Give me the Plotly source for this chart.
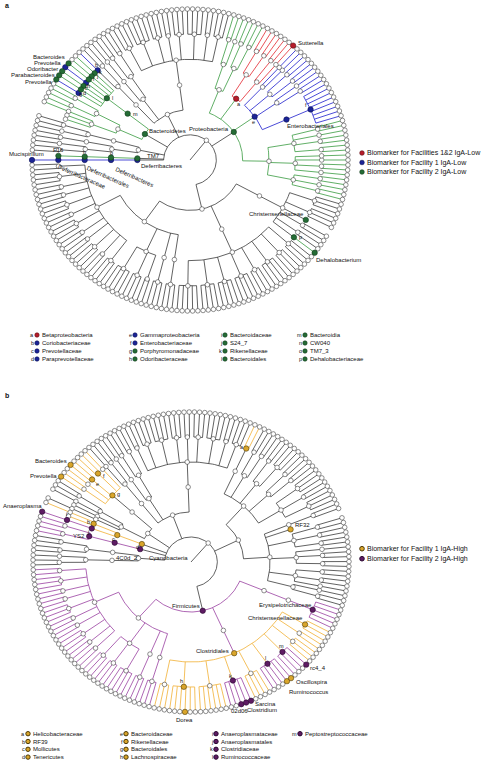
import math
import plotly.graph_objects as go

# ===================== DATA =====================
# Tree notation: kingdom = list of phyla; phylum = list of classes;
# class = list of orders; order = list of families, each family given as
# its number of genera (0 = the family itself is a tip).

# ---------- panel a ----------
A_PHYLA = ["Firmicutes", "Proteobacteria", "Actinobacteria", "Bacteroidetes",
           "Tenericutes", "TM7", "Deferribacteres"]
A_FIRMICUTES = [[[2, 3, 2, 2, 3, 2, 3, 2, 2, 3, 2, 3], [4, 3, 2], [3], [3]],
                [[5, 4, 4, 4, 3, 4, 3, 3]],
                [[1, 2, 2, 0, 3, 3]]]
A_PROTEOBACTERIA = [[[2, 1, 2], [1, 2, 1, 1], [2, 2, 1, 2]],
                    [[8], [2, 1], [2, 2], [1, 1]],
                    [[1, 2], [2, 2]],
                    [[2, 2], [1, 2]]]
A_ACTINOBACTERIA = [[[3, 2, 4, 3, 2, 3, 4, 3]], [[2, 2], [1]], [[2, 1]]]
A_BACTEROIDETES = [[[1, 1, 1, 1, 1, 1, 1]], [[2, 2], [1, 0, 0]]]
A_TENERICUTES = [[[2, 1]], [[2], [1, 2]]]
A_TM7 = [[[0]]]
A_DEFERRIBACTERES = [[[1]]]
A_TREE = [A_FIRMICUTES, A_PROTEOBACTERIA, A_ACTINOBACTERIA, A_BACTEROIDETES,
          A_TENERICUTES, A_TM7, A_DEFERRIBACTERES]

A_MARK_PATHS = [(1,), (1, 2), (1, 2, 0, 0, 0), (1, 1), (1, 1, 0), (1, 1, 0, 0),
                (2, 2, 0, 1), (3,), (3, 0), (3, 0, 0), (3, 0, 0, 0), (3, 0, 0, 1),
                (3, 0, 0, 2), (3, 0, 0, 2, 0), (3, 0, 0, 3), (3, 0, 0, 3, 0),
                (3, 0, 0, 4), (3, 0, 0, 4, 0), (3, 0, 0, 5), (3, 0, 0, 5, 0),
                (3, 0, 0, 6), (3, 0, 0, 6, 0), (5,), (5, 0), (5, 0, 0), (5, 0, 0, 0),
                (6,), (6, 0), (6, 0, 0), (6, 0, 0, 0), (6, 0, 0, 0, 0),
                (0, 2, 0, 3), (0, 2, 0, 0), (0, 2, 0, 0, 0)]
A_MARK_GROUPS = ["g", "r", "r", "b", "b", "b", "b", "g", "g", "g", "g", "g", "g", "g",
                 "b", "b", "g", "g", "g", "g", "b", "g", "g", "g", "g", "g",
                 "b", "b", "b", "b", "b", "g", "g", "g"]
A_MARK_LABELS = ["Proteobacteria", "a", "Sutterella", "e", "Enterobacteriales", "f",
                 "b", "Bacteroidetes", "m", "l", "k", "j", "i", "Bacteroides", "c",
                 "Prevotella", "h", "Odoribacter", "g", "Parabacteroides", "d",
                 "Prevotella", "TM7", "o", "n", "F16", "Deferribacteres",
                 "Deferribacteres", "Deferribacterales", "Deferribacteraceae",
                 "Mucispirillum", "Christensenellaceae", "p", "Dehalobacterium"]

A_KEY_LETTERS = list("abcdefghijklmnop")
A_KEY_NAMES = ["Betaproteobacteria", "Coriobacteriaceae", "Prevotellaceae",
               "Paraprevotellaceae", "Gammaproteobacteria", "Enterobacteriaceae",
               "Porphyromonadaceae", "Odoribacteraceae", "Bacteroidaceae", "S24_7",
               "Rikenellaceae", "Bacteroidales", "Bacteroidia", "CW040", "TM7_3",
               "Dehalobacteriaceae"]
A_KEY_GROUPS = ["r", "b", "b", "b", "b", "b", "g", "g", "g", "g", "g", "g", "g", "g",
                "g", "g"]
A_LEGEND_NAMES = ["Biomarker for Facilities 1&2 IgA-Low",
                  "Biomarker for Facility 1 IgA-Low",
                  "Biomarker for Facility 2 IgA-Low"]
A_LEGEND_GROUPS = ["r", "b", "g"]

# ---------- panel b ----------
B_PHYLA = ["Firmicutes", "Proteobacteria", "Actinobacteria", "Bacteroidetes",
           "Tenericutes", "Cyanobacteria", "Verrucomicrobia"]
B_FIRMICUTES = [[[2, 3, 2, 2, 3, 2, 2, 3, 2, 2], [3, 3, 4], [3], [3]],
                [[3, 6, 6, 5, 4, 5, 4, 3, 2, 3]],
                [[5]]]
B_PROTEOBACTERIA = [[[2, 1], [1, 2, 2], [2, 2, 1], [2, 2, 2], [], [2]],
                    [[3, 2, 3], [2, 2], [3, 2], [2, 2], [2]]]
B_ACTINOBACTERIA = [[[3, 2, 4, 3, 2, 3, 4, 3, 2]], [[2, 2], [1]], [[2, 1]]]
B_BACTEROIDETES = [[[1, 2, 2, 1, 2]], [[2, 1], [0], [1]]]
B_TENERICUTES = [[[1, 0], [1]]]
B_CYANOBACTERIA = [[[2, 2]]]
B_VERRUCOMICROBIA = [[[2, 2]], [[1, 2]]]
B_TREE = [B_FIRMICUTES, B_PROTEOBACTERIA, B_ACTINOBACTERIA, B_BACTEROIDETES,
          B_TENERICUTES, B_CYANOBACTERIA, B_VERRUCOMICROBIA]

B_MARK_PATHS = [(0,), (0, 1, 0), (0, 1, 0, 1), (0, 1, 0, 1, 3), (0, 1, 0, 3),
                (0, 1, 0, 3, 2), (0, 1, 0, 3, 3), (0, 1, 0, 3, 4), (0, 1, 0, 5),
                (0, 1, 0, 5, 3), (0, 1, 0, 5, 4), (0, 1, 0, 6), (0, 1, 0, 6, 3),
                (0, 1, 0, 9), (0, 2, 0, 0), (1, 0, 4), (1, 1, 4, 0), (3, 0, 0),
                (3, 0, 0, 1), (3, 0, 0, 2), (3, 0, 0, 2, 1), (3, 0, 0, 4, 1), (4,),
                (4, 0), (4, 0, 0), (4, 0, 1), (4, 0, 1, 0), (4, 0, 1, 0, 0), (5,),
                (5, 0), (5, 0, 0)]
B_MARK_GROUPS = ["p", "o", "o", "o", "p", "p", "p", "p", "p", "o", "o", "p", "p", "o",
                 "p", "o", "o", "o", "o", "o", "o", "o", "o", "o", "o", "p", "p", "p",
                 "p", "p", "p"]
B_MARK_LABELS = ["Firmicutes", "Clostridiales", "h", "Dorea", "k", "02d06",
                 "Clostridium", "Sarcina", "l", "Ruminococcus", "Oscillospira", "m",
                 "rc4_4", "Christensenellaceae", "Erysipelotrichaceae", "RF32", "a",
                 "g", "f", "e", "Bacteroides", "Prevotella", "d", "c", "b", "j", "i",
                 "Anaeroplasma", "Cyanobacteria", "4C0d_2", "YS2"]

B_KEY_LETTERS = list("abcdefghijklm")
B_KEY_NAMES = ["Helicobacteraceae", "RF39", "Mollicutes", "Tenericutes",
               "Bacteroidaceae", "Rikenellaceae", "Bacteroidales", "Lachnospiraceae",
               "Anaeroplasmataceae", "Anaeroplasmatales", "Clostridiaceae",
               "Ruminococcaceae", "Peptostreptococcaceae"]
B_KEY_GROUPS = ["o"] * 8 + ["p"] * 5
B_LEGEND_NAMES = ["Biomarker for Facility 1 IgA-High",
                  "Biomarker for Facility 2 IgA-High"]
B_LEGEND_GROUPS = ["o", "p"]

# ===================== STYLE / LAYOUT =====================
W, H = 494, 762
FONT = "Liberation Sans, Arial, sans-serif"
LINE_COL = {"k": "#1e1e1e", "r": "#e5333b", "b": "#2b2bd0", "g": "#45a04b",
            "o": "#f2b540", "p": "#9f4ba6"}
DOT_COL = {"r": "#b71c2a", "b": "#1b2496", "g": "#246c35", "o": "#d9a52b", "p": "#5e1b63"}
DOT_EDGE = {"r": "#5a0a10", "b": "#0b1055", "g": "#103a1a", "o": "#4e3a05", "p": "#2a0830"}

# label placement (dx px, dy px downward, xanchor, angle)
A_LABEL_PLACE = [(-4, -3, "right", 0), (3, 5, "center", 0), (4, -3, "left", 0),
                 (-1, 5, "center", 0), (0, 6, "left", 0), (-5, -4, "center", 0),
                 (-1, -5, "center", 0), (3, -3, "left", 0), (4, 0, "left", 0),
                 (4, 0, "left", 0), (3, -1, "left", 0), (3, 0, "left", 0),
                 (3, 0, "left", 0), (-3, -6, "right", 0), (0, 5, "center", 0),
                 (-3, -4, "right", 0), (3, 0, "left", 0), (-3, -2, "right", 0),
                 (0, 5, "center", 0), (-3, 0, "right", 0), (3, 0, "left", 0),
                 (-3, 2, "right", 0), (9, -2, "left", 0), (0, -5, "center", 0),
                 (0, -5, "center", 0), (0, -6, "center", 0), (3, 6, "left", 0),
                 (23, 17, "center", 24), (23, 17, "center", 24), (24, 17, "center", 24),
                 (-6, -6, "center", 0), (-1, -6, "right", 0), (4, 0, "left", 0),
                 (0, 7, "left", 0)]
B_LABEL_PLACE = [(-2, -5, "right", 0), (-4, -2, "right", 0), (-2, -6, "center", 0),
                 (0, 8, "center", 0), (-2, -5, "center", 0), (-2, 7, "center", 0),
                 (0, 7, "left", 0), (3, 3, "left", 0), (-2, -6, "center", 0),
                 (1, 11, "left", 0), (4, 4, "left", 0), (-1, -6, "center", 0),
                 (3, 3, "left", 0), (-1, -6, "right", 0), (0, -5, "right", 0),
                 (3, -4, "left", 0), (-4, -2, "center", 0), (4, -1, "left", 0),
                 (4, 2, "left", 0), (3, 4, "left", 0), (-3, -4, "right", 0),
                 (-3, -1, "right", 0), (-4, 3, "center", 0), (-4, 4, "center", 0),
                 (-5, -2, "center", 0), (-4, 4, "center", 0), (0, -6, "center", 0),
                 (1, -6, "right", 0), (8, 9, "left", 0), (0, 15, "left", 0),
                 (-3, 0, "right", 0)]

PANEL_A = dict(cx=190, cy=160, rx=158, ry=151, top=0, bottom=381, start=-178.1,
               xa="x", ya="y", xname="xaxis", yname="yaxis")
PANEL_B = dict(cx=191, cy=562, rx=158, ry=150, top=381, bottom=762, start=-177.0,
               xa="x2", ya="y2", xname="xaxis2", yname="yaxis2")


def xy(theta, r):
    t = math.radians(theta)
    return r * math.cos(t), r * math.sin(t)


def count_leaves(item, level):
    ch = [] if level == 6 else ([None] * item if level == 5 else item)
    if not ch:
        return 1
    return sum(count_leaves(c, level + 1) for c in ch)


def draw_panel(fig, tree, paths, groups, labels, places, P):
    n_leaves = count_leaves(tree, 1)
    step = 360.0 / n_leaves
    pos, kids = {}, {}
    counter = [0]

    def visit(item, path, level):
        ch = [] if level == 6 else ([None] * item if level == 5 else item)
        if not ch:
            th = P["start"] + counter[0] * step
            counter[0] += 1
        else:
            ths = [visit(c, path + (i,), level + 1) for i, c in enumerate(ch)]
            th = 0.5 * (ths[0] + ths[-1])
        pos[path] = (th, level)
        kids[path] = [path + (i,) for i in range(len(ch))]
        return th

    visit(tree, (), 1)
    mark = dict(zip(paths, groups))

    def eff(path):
        while path:
            if path in mark:
                return mark[path]
            path = path[:-1]
        return mark.get((), "k")

    segs = {}

    def add(col, xs, ys):
        segs.setdefault(col, ([], []))
        segs[col][0].extend(xs + [None])
        segs[col][1].extend(ys + [None])

    kx, ky = xy(*pos[()])
    add("k", [0, kx], [0, ky])
    for path, ch in kids.items():
        if not ch:
            continue
        thp, lp = pos[path]
        col = eff(path)
        ths = [pos[c][0] for c in ch]
        a0, a1 = min(ths), max(ths)
        if a1 - a0 > 1e-6:
            n = max(2, int((a1 - a0) / 1.2) + 2)
            xs, ys = [], []
            for i in range(n):
                x, y = xy(a0 + (a1 - a0) * i / (n - 1), lp)
                xs.append(x)
                ys.append(y)
            add(col, xs, ys)
        for c in ch:
            thc, lc = pos[c]
            x0, y0 = xy(thc, lp)
            x1, y1 = xy(thc, lc)
            add(col, [x0, x1], [y0, y1])
    for col in ["k", "r", "b", "g", "o", "p"]:
        if col in segs:
            fig.add_trace(go.Scatter(x=segs[col][0], y=segs[col][1], mode="lines",
                                     line=dict(color=LINE_COL[col],
                                               width=0.7 if col == "k" else 0.85),
                                     xaxis=P["xa"], yaxis=P["ya"], hoverinfo="skip"))
    wx, wy = [], []
    for path, (th, lv) in pos.items():
        if path not in mark:
            x, y = xy(th, lv)
            wx.append(x)
            wy.append(y)
    fig.add_trace(go.Scatter(x=wx, y=wy, mode="markers",
                             marker=dict(size=4.6, color="white",
                                         line=dict(color="#333333", width=0.55)),
                             xaxis=P["xa"], yaxis=P["ya"], hoverinfo="skip"))
    for g in ["r", "b", "g", "o", "p"]:
        mx, my = [], []
        for path, gg in mark.items():
            if gg == g:
                x, y = xy(*pos[path])
                mx.append(x)
                my.append(y)
        if mx:
            fig.add_trace(go.Scatter(x=mx, y=my, mode="markers",
                                     marker=dict(size=5.4, color=DOT_COL[g],
                                                 line=dict(color=DOT_EDGE[g], width=0.6)),
                                     xaxis=P["xa"], yaxis=P["ya"], hoverinfo="skip"))
    anns = []
    for path, lab, (dx, dy, anc, ang) in zip(paths, labels, places):
        x, y = xy(*pos[path])
        anns.append(dict(x=x, y=y, xref=P["xa"], yref=P["ya"], text=lab,
                         showarrow=False, xanchor=anc, yanchor="middle",
                         xshift=dx, yshift=-dy, textangle=ang, borderpad=0,
                         font=dict(size=5.5 if len(lab) == 1 else 6,
                                   family=FONT, color="#111111")))
    ux, uy = P["rx"] / 6.0, P["ry"] / 6.0
    xr = [-P["cx"] / ux, (W - P["cx"]) / ux]
    yr = [-(P["bottom"] - P["cy"]) / uy, (P["cy"] - P["top"]) / uy]
    ax = dict(range=xr, domain=[0, 1], visible=False, fixedrange=True,
              showgrid=False, zeroline=False)
    ay = dict(range=yr, domain=[1 - P["bottom"] / H, 1 - P["top"] / H],
              visible=False, fixedrange=True, showgrid=False, zeroline=False)
    if P["xa"] == "x2":
        ax["anchor"] = "y2"
        ay["anchor"] = "x2"
    fig.update_layout({P["xname"]: ax, P["yname"]: ay})
    return anns


def px_paper(px, py):
    return px / W, 1 - py / H


def dot(px, py, d, g, lw=0.6):
    x0, y1 = px_paper(px - d / 2, py - d / 2)
    x1, y0 = px_paper(px + d / 2, py + d / 2)
    return dict(type="circle", xref="paper", yref="paper", x0=x0, x1=x1, y0=y0, y1=y1,
                fillcolor=DOT_COL[g], line=dict(color=DOT_EDGE[g], width=lw),
                layer="above")


def ptext(px, py, text, size, anchor="left", bold=False):
    x, y = px_paper(px, py)
    return dict(x=x, y=y, xref="paper", yref="paper",
                text=("<b>%s</b>" % text) if bold else text,
                showarrow=False, xanchor=anchor, yanchor="middle", borderpad=0,
                font=dict(size=size, family=FONT, color="#111111"))


fig = go.Figure()
anns = []
anns += draw_panel(fig, A_TREE, A_MARK_PATHS, A_MARK_GROUPS, A_MARK_LABELS,
                   A_LABEL_PLACE, PANEL_A)
anns += draw_panel(fig, B_TREE, B_MARK_PATHS, B_MARK_GROUPS, B_MARK_LABELS,
                   B_LABEL_PLACE, PANEL_B)

shapes = []
# panel letters
anns.append(ptext(4, 6, "a", 7, bold=True))
anns.append(ptext(4, 395, "b", 7, bold=True))

# right-hand legends
for i, (name, g) in enumerate(zip(A_LEGEND_NAMES, A_LEGEND_GROUPS)):
    py = 153 + 9.5 * i
    shapes.append(dot(362, py, 4.6, g))
    anns.append(ptext(365.5, py, name, 7))
for i, (name, g) in enumerate(zip(B_LEGEND_NAMES, B_LEGEND_GROUPS)):
    py = 548.7 + 10 * i
    shapes.append(dot(362, py, 4.6, g, lw=1.0))
    anns.append(ptext(365.5, py, name, 7))

# bottom keys
A_KEY_COLX = [37, 135, 225, 305]
for i, (lt, name, g) in enumerate(zip(A_KEY_LETTERS, A_KEY_NAMES, A_KEY_GROUPS)):
    cx = A_KEY_COLX[i // 4]
    py = 335 + 8 * (i % 4)
    shapes.append(dot(cx, py, 4.4, g))
    anns.append(ptext(cx - 2.5, py, lt, 5.5, anchor="right"))
    anns.append(ptext(cx + 4, py, name, 6))
B_KEY_COLX = [28, 126, 216, 300]
for i, (lt, name, g) in enumerate(zip(B_KEY_LETTERS, B_KEY_NAMES, B_KEY_GROUPS)):
    cx = B_KEY_COLX[i // 4]
    py = 733.7 + 7.8 * (i % 4)
    shapes.append(dot(cx, py, 4.4, g, lw=1.0))
    anns.append(ptext(cx - 2.5, py, lt, 5.5, anchor="right"))
    anns.append(ptext(cx + 4, py, name, 6))

fig.update_layout(width=W, height=H, margin=dict(l=0, r=0, t=0, b=0),
                  paper_bgcolor="white", plot_bgcolor="white", showlegend=False,
                  annotations=anns, shapes=shapes)
fig.write_html("out.html", config={"displayModeBar": False, "staticPlot": True},
               post_script="document.body.style.margin='0';"
                           "document.body.style.overflow='hidden';")
